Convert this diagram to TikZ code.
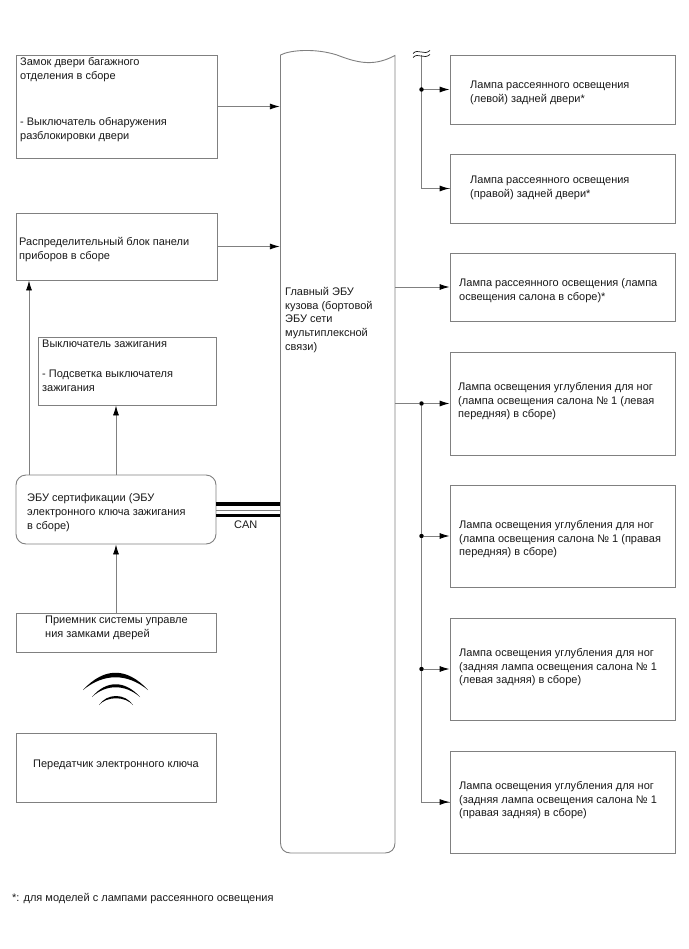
\documentclass[tikz,border=0pt]{standalone}
\usepackage{fontspec}
\setmainfont{Liberation Sans}
\usetikzlibrary{arrows.meta}
\definecolor{edge}{gray}{0.5}
\definecolor{ink}{gray}{0.1}
\tikzset{
  x=1pt,y=-1pt,
  panel/.style={draw=edge,line width=0.9pt,inner sep=0,fill=white},
  caption/.style={anchor=north west,yshift=3.8pt,align=left,inner sep=0,text=ink,
    font=\fontsize{11}{13.7}\selectfont},
  link/.style={draw=edge,line width=0.9pt},
  flow/.style={link,-{Latex[length=10pt,width=6pt,black]}},
  dot/.style={circle,fill=black,inner sep=0,minimum size=4.5pt},
  bus/.style={line width=3.6pt,black},
  busmid/.style={line width=0.9pt,edge},
}
% box given by its two corners
\newcommand{\panelbox}[6][]{%
  \node[panel,#1,minimum width=#4-#2,minimum height=#5-#3] (#6) at ({(#2+#4)/2},{(#3+#5)/2}) {};}
\begin{document}
\begin{tikzpicture}
\useasboundingbox (0,0) rectangle (688,949);

% left column
\panelbox{16}{55}{217}{158}{lock}
\panelbox{16}{213}{217}{280}{junction}
\panelbox{38}{337}{216}{405}{ignition}
\panelbox[rounded corners=10pt]{16}{475}{216}{544}{cert}
\panelbox{16}{613}{216}{652}{receiver}
\panelbox{16}{733}{216}{802}{fob}

% right column
\panelbox{450}{55}{675}{124}{lampA}
\panelbox{450}{154}{675}{223}{lampB}
\panelbox{450}{253}{675}{321}{lampC}
\panelbox{450}{352}{675}{455}{lampD}
\panelbox{450}{485}{675}{587}{lampE}
\panelbox{450}{618}{675}{720}{lampF}
\panelbox{450}{751}{675}{853}{lampG}

% main body ECU: wavy top edge, rounded bottom
\node[minimum width=115pt,minimum height=798pt,inner sep=0] (main) at (337.5,454) {};
\draw[link,fill=white] (280.5,55) .. controls (290,50) and (315,48) .. (337,55)
  .. controls (360,64) and (375,66) .. (395,55.5)
  -- (395,843) .. controls (395,849) and (391,853) .. (385,853)
  -- (290.5,853) .. controls (284.5,853) and (280.5,849) .. (280.5,843) -- cycle;

% captions
\node[caption] (tlock) at (20,61) {Замок двери багажного\\отделения в сборе};
\node[caption] (tlockb) at (20,121) {- Выключатель обнаружения\\разблокировки двери};
\node[caption] (tjunction) at (19,241) {Распределительный блок панели\\приборов в сборе};
\node[caption] (tign) at (42,344) {Выключатель зажигания};
\node[caption] (tignb) at (42,374) {- Подсветка выключателя\\зажигания};
\node[caption] (tcert) at (27,497.5) {ЭБУ сертификации (ЭБУ\\электронного ключа зажигания\\в сборе)};
\node[caption] (trec) at (45,620) {Приемник системы управле\\ния замками дверей};
\node[caption] (tfob) at (33,764) {Передатчик электронного ключа};
\node[caption] (tmain) at (285,291) {Главный ЭБУ\\кузова (бортовой\\ЭБУ сети\\мультиплексной\\связи)};
\node[caption] (ta) at (470,85) {Лампа рассеянного освещения\\(левой) задней двери*};
\node[caption] (tb) at (470,180) {Лампа рассеянного освещения\\(правой) задней двери*};
\node[caption] (tc) at (459,282) {Лампа рассеянного освещения (лампа\\освещения салона в сборе)*};
\node[caption] (td) at (458,386) {Лампа освещения углубления для ног\\(лампа освещения салона № 1 (левая\\передняя) в сборе)};
\node[caption] (te) at (459,524) {Лампа освещения углубления для ног\\(лампа освещения салона № 1 (правая\\передняя) в сборе)};
\node[caption] (tf) at (459,652) {Лампа освещения углубления для ног\\(задняя лампа освещения салона № 1\\(левая задняя) в сборе)};
\node[caption] (tg) at (459,785) {Лампа освещения углубления для ног\\(задняя лампа освещения салона № 1\\(правая задняя) в сборе)};
\node[caption] (tcan) at (234,524) {CAN};
\node[caption] (tnote) at (12,897) {*: для моделей с лампами рассеянного освещения};

% connectors into the main ECU
\draw[flow] (lock.east) -- (main.west |- lock.east);
\draw[flow] (junction.east) -- (main.west |- junction.east);

% connectors within the left column
\coordinate (tap) at (29,0);
\draw[flow] (tap |- cert.north) -- (tap |- junction.south);
\draw[flow] (cert.north) -- (cert.north |- ignition.south);
\draw[flow] (receiver.north) -- (cert.south);

% CAN bus
\coordinate (canA) at (0,504);
\coordinate (canB) at (0,510);
\coordinate (canC) at (0,515.5);
\draw[bus] (cert.east |- canA) -- (main.west |- canA);
\draw[busmid] (cert.east |- canB) -- (main.west |- canB);
\draw[bus] (cert.east |- canC) -- (main.west |- canC);

% upper feed to the door lamps, continued from elsewhere
\coordinate (feedA) at (421.5,55);
\draw[link] (feedA) |- (lampB.west);
\draw[flow] (feedA |- lampB.west) -- (lampB.west);
\node[dot] (j1) at (feedA |- lampA.west) {};
\draw[flow] (j1) -- (lampA.west);
\draw[link,line width=0.7pt,draw=ink] (413,53.5) .. controls (418,48) and (424,56) .. (430,50.5);
\draw[link,line width=0.7pt,draw=ink] (413,57.5) .. controls (418,52) and (424,60) .. (430,54.5);

% interior lamp
\draw[flow] (main.east |- lampC.west) -- (lampC.west);

% foot-well lamps
\coordinate (feedB) at (421.5,0);
\node[dot] (j2) at (feedB |- lampD.west) {};
\node[dot] (j3) at (feedB |- lampE.west) {};
\node[dot] (j4) at (feedB |- lampF.west) {};
\draw[link] (main.east |- j2) -- (j2);
\draw[link] (j2) -- (j3) -- (j4) |- (lampG.west);
\draw[flow] (j2) -- (lampD.west);
\draw[flow] (j3) -- (lampE.west);
\draw[flow] (j4) -- (lampF.west);
\draw[flow] (feedB |- lampG.west) -- (lampG.west);

% radio waves
\fill[black] (83,690) .. controls (104,667) and (127,667) .. (148,690)
  .. controls (127,673) and (104,673) .. cycle;
\fill[black] (92,697) .. controls (106,680) and (125,680) .. (140,697)
  .. controls (125,684) and (106,684) .. cycle;
\fill[black] (99,705) .. controls (107,693) and (125,693) .. (133,705)
  .. controls (125,696) and (107,696) .. cycle;
\end{tikzpicture}
\end{document}
